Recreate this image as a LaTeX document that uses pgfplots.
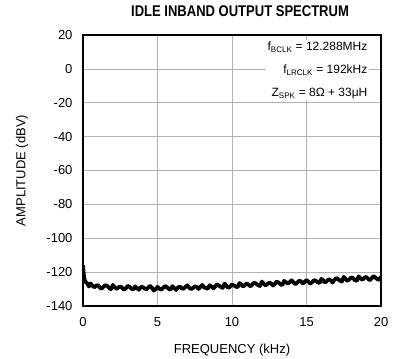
\documentclass[border=0pt]{standalone}
\usepackage{pgfplots}
\pgfplotsset{compat=1.18}
\usepackage{fontspec}
\setmainfont{Liberation Sans}
\begin{document}
\fontsize{13}{15}\selectfont
\begin{tikzpicture}
\begin{axis}[
    scale only axis, width=298pt, height=271pt,
    xmin=0, xmax=20, ymin=-140, ymax=20,
    xtick={0,5,10,15,20},
    ytick={-140,-120,-100,-80,-60,-40,-20,0,20},
    yticklabels={-140,-120,-100,-80,-60,-40,-20,0,20},
    xticklabels={0,5,10,15,20},
    grid=major,
    major grid style={gray!60, line width=0.7pt},
    axis line style={line width=1.8pt},
    tick style={draw=none},
    xticklabel style={anchor=center, yshift=-16.5pt},
    yticklabel style={anchor=east, xshift=-6pt},
    xlabel={FREQUENCY (kHz)},
    ylabel={AMPLITUDE (dBV)},
    xlabel style={at={(axis description cs:0.5,-0.162)}, anchor=center},
    ylabel style={at={(axis description cs:-0.205,0.5)}, anchor=center},
    title={\bfseries\fontsize{15.5}{17}\selectfont IDLE INBAND OUTPUT SPECTRUM},
    title style={at={(axis description cs:0.527,1.066)}, anchor=center, xscale=0.84},
    clip=true,
]
\addplot[black, line width=3.8pt, line join=round] coordinates {
(0,-116) (0.05,-121) (0.1,-124.5) (0.2,-126) (0.3,-126.8) (0.4,-128.5)
(0.5,-126.7) (0.625,-127.9) (0.75,-129.0) (0.875,-128.0) (1.0,-127.7) (1.125,-129.1) (1.25,-129.8) (1.375,-128.6) (1.5,-127.7)
(1.625,-128.2) (1.75,-129.3) (1.875,-130.1) (2.0,-127.6) (2.125,-128.9) (2.25,-130.0) (2.375,-129.0) (2.5,-128.6) (2.625,-129.1) (2.75,-130.4)
(2.875,-129.6) (3.0,-128.1) (3.125,-128.7) (3.25,-129.8) (3.375,-130.3) (3.5,-128.4) (3.625,-129.5) (3.75,-130.4) (3.875,-128.9) (4.0,-128.8)
(4.125,-129.6) (4.25,-130.2) (4.375,-129.1) (4.5,-128.1) (4.625,-129.2) (4.75,-130.9) (4.875,-130.0) (5.0,-128.7) (5.125,-129.8) (5.25,-130.4)
(5.375,-129.3) (5.5,-128.2) (5.625,-128.9) (5.75,-129.8) (5.875,-130.3) (6.0,-128.3) (6.125,-129.4) (6.25,-130.5) (6.375,-129.0) (6.5,-128.5)
(6.625,-129.6) (6.75,-129.8) (6.875,-128.7) (7.0,-127.8) (7.125,-129.2) (7.25,-130.0) (7.375,-129.4) (7.5,-128.4) (7.625,-128.6) (7.75,-129.9)
(7.875,-128.8) (8.0,-127.6) (8.125,-128.9) (8.25,-129.4) (8.375,-129.8) (8.5,-127.7) (8.625,-128.5) (8.75,-129.6) (8.875,-128.4) (9.0,-127.3)
(9.125,-128.0) (9.25,-128.7) (9.375,-129.3) (9.5,-126.8) (9.625,-128.1) (9.75,-129.3) (9.875,-128.6) (10.0,-127.3) (10.125,-127.9) (10.25,-128.5)
(10.375,-128.9) (10.5,-126.5) (10.625,-127.4) (10.75,-128.5) (10.875,-127.5) (11.0,-126.7) (11.125,-127.6) (11.25,-128.4) (11.375,-127.1) (11.5,-126.2)
(11.625,-126.9) (11.75,-127.7) (11.875,-128.2) (12.0,-125.6) (12.125,-126.8) (12.25,-127.9) (12.375,-127.0) (12.5,-126.3) (12.625,-126.6) (12.75,-127.9)
(12.875,-126.9) (13.0,-125.6) (13.125,-126.2) (13.25,-127.2) (13.375,-127.6) (13.5,-125.2) (13.625,-126.0) (13.75,-126.7) (13.875,-125.9) (14.0,-124.8)
(14.125,-126.0) (14.25,-127.1) (14.375,-126.3) (14.5,-125.1) (14.625,-125.4) (14.75,-126.7) (14.875,-125.8) (15.0,-124.7) (15.125,-125.6) (15.25,-126.8)
(15.375,-125.9) (15.5,-124.8) (15.625,-125.1) (15.75,-126.0) (15.875,-126.4) (16.0,-124.0) (16.125,-125.0) (16.25,-126.1) (16.375,-125.2) (16.5,-124.2)
(16.625,-124.9) (16.75,-126.1) (16.875,-124.6) (17.0,-123.5) (17.125,-124.2) (17.25,-125.0) (17.375,-125.6) (17.5,-122.8) (17.625,-124.1) (17.75,-125.2)
(17.875,-124.3) (18.0,-123.1) (18.125,-123.6) (18.25,-124.8) (18.375,-125.1) (18.5,-122.5) (18.625,-123.7) (18.75,-124.5) (18.875,-123.4) (19.0,-122.8)
(19.125,-123.9) (19.25,-124.8) (19.375,-123.6) (19.5,-122.4) (19.625,-123.2) (19.75,-124.1) (19.875,-124.5) (20.0,-122.7)
};
\node[anchor=north east, align=right, fill=white, inner sep=1.5pt,
      font=\fontsize{12}{23}\selectfont]
  at (rel axis cs:0.96,0.982)
  {f\textsubscript{BCLK} = 12.288MHz\\
   f\textsubscript{LRCLK} = 192kHz\\
   Z\textsubscript{SPK} = 8Ω + 33μH};
\node[anchor=south east, inner sep=1pt, font=\fontsize{8}{9}\selectfont]
  at (rel axis cs:1,1) {toc60};
\end{axis}
\pgfresetboundingbox
\useasboundingbox ([shift={(-83pt,-52pt)}]current axis.south west)
  rectangle ([shift={(17pt,35pt)}]current axis.north east);
\end{tikzpicture}
\end{document}
